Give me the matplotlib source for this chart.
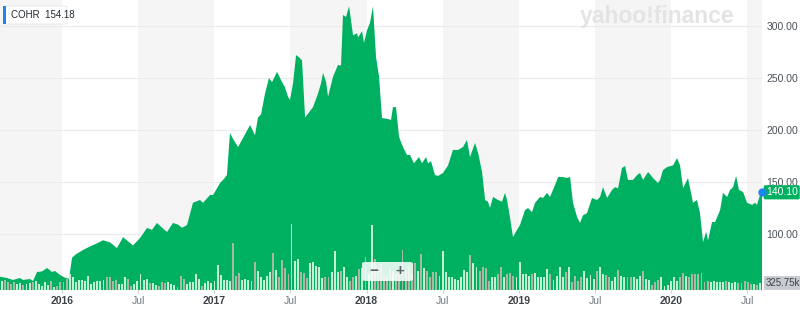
import numpy as np
import matplotlib
matplotlib.use("Agg")
import matplotlib.pyplot as plt
from matplotlib.patches import FancyBboxPatch, Rectangle
from matplotlib.transforms import blended_transform_factory

plt.rcParams['font.family'] = ['Liberation Sans', 'DejaVu Sans']

# price series (decimal year, close)
t_price = [2015.593, 2015.639, 2015.678, 2015.724, 2015.744, 2015.790, 2015.810, 2015.836,
           2015.869, 2015.902, 2015.934, 2015.954, 2015.987, 2016.020, 2016.046, 2016.066,
           2016.085, 2016.105, 2016.138, 2016.184, 2016.230, 2016.269, 2016.315, 2016.361,
           2016.401, 2016.433, 2016.466, 2016.512, 2016.558, 2016.591, 2016.624, 2016.657,
           2016.690, 2016.729, 2016.762, 2016.788, 2016.821, 2016.860, 2016.906, 2016.926,
           2016.972, 2016.992, 2017.038, 2017.064, 2017.083, 2017.103, 2017.129, 2017.156,
           2017.195, 2017.235, 2017.267, 2017.287, 2017.307, 2017.333, 2017.359, 2017.379,
           2017.412, 2017.438, 2017.464, 2017.484, 2017.497, 2017.517, 2017.537, 2017.556,
           2017.576, 2017.596, 2017.622, 2017.648, 2017.681, 2017.701, 2017.714, 2017.734,
           2017.747, 2017.779, 2017.812, 2017.832, 2017.845, 2017.865, 2017.885, 2017.911,
           2017.937, 2017.944, 2017.970, 2017.983, 2018.003, 2018.022, 2018.042, 2018.062,
           2018.082, 2018.101, 2018.141, 2018.160, 2018.173, 2018.193, 2018.213, 2018.239,
           2018.265, 2018.285, 2018.311, 2018.344, 2018.364, 2018.390, 2018.403, 2018.423,
           2018.449, 2018.469, 2018.502, 2018.535, 2018.567, 2018.600, 2018.633, 2018.659,
           2018.679, 2018.712, 2018.732, 2018.758, 2018.778, 2018.797, 2018.810, 2018.830,
           2018.863, 2018.889, 2018.909, 2018.922, 2018.942, 2018.961, 2018.988, 2019.007,
           2019.040, 2019.060, 2019.086, 2019.106, 2019.139, 2019.158, 2019.185, 2019.204,
           2019.237, 2019.257, 2019.290, 2019.316, 2019.336, 2019.355, 2019.382, 2019.401,
           2019.421, 2019.447, 2019.480, 2019.513, 2019.533, 2019.552, 2019.579, 2019.611,
           2019.631, 2019.651, 2019.677, 2019.697, 2019.716, 2019.749, 2019.776, 2019.795,
           2019.815, 2019.848, 2019.881, 2019.913, 2019.927, 2019.946, 2019.973, 2020.012,
           2020.038, 2020.058, 2020.078, 2020.110, 2020.137, 2020.143, 2020.169, 2020.189,
           2020.209, 2020.229, 2020.242, 2020.268, 2020.288, 2020.321, 2020.340, 2020.367,
           2020.386, 2020.406, 2020.426, 2020.445, 2020.472, 2020.498, 2020.531, 2020.550,
           2020.563, 2020.583, 2020.596]
price = [58.9, 57.7, 55.8, 57.7, 55.8, 56.7, 54.8, 63.5, 64.0, 67.3, 63.5, 64.4, 60.6, 58.0,
         57.0, 77.0, 79.8, 81.7, 84.6, 88.0, 91.0, 94.0, 92.0, 86.5, 97.0, 93.0, 89.0, 96.0,
         105.8, 104.0, 110.6, 106.0, 102.0, 110.6, 109.0, 106.0, 108.6, 130.0, 132.7, 130.0,
         137.5, 137.5, 149.0, 153.0, 156.7, 197.0, 190.0, 183.6, 194.0, 204.8, 195.0, 212.0,
         215.0, 235.0, 250.0, 246.0, 256.0, 248.0, 241.0, 232.0, 229.0, 245.0, 272.0, 270.0,
         267.0, 212.0, 217.0, 222.0, 235.0, 245.0, 255.0, 246.0, 232.0, 251.0, 262.5, 262.0,
         310.6, 308.7, 319.0, 291.0, 293.0, 289.0, 295.0, 283.7, 296.0, 303.0, 319.0, 270.0,
         251.0, 211.5, 210.6, 209.6, 222.0, 222.0, 193.3, 183.6, 176.0, 176.0, 168.0, 174.0,
         168.0, 174.0, 168.0, 170.0, 156.7, 155.8, 158.7, 166.0, 180.8, 180.8, 183.6, 190.4,
         174.0, 187.5, 178.0, 159.6, 132.7, 131.0, 125.0, 135.6, 132.7, 131.0, 139.6, 132.7,
         115.4, 97.0, 104.0, 108.6, 123.0, 125.0, 121.0, 130.0, 135.6, 134.6, 139.6, 135.6,
         147.0, 154.8, 154.8, 153.8, 154.8, 130.0, 116.3, 110.6, 118.0, 120.0, 134.6, 132.7,
         135.6, 145.0, 134.6, 142.3, 145.0, 144.0, 163.5, 165.4, 152.0, 152.0, 156.7, 158.7,
         152.0, 159.6, 153.8, 149.0, 152.0, 161.5, 164.4, 166.0, 173.0, 166.0, 144.0, 153.8,
         134.6, 130.0, 132.7, 120.0, 92.3, 102.0, 94.0, 111.5, 111.5, 123.0, 139.6, 135.6,
         142.3, 145.0, 155.8, 142.3, 140.4, 130.0, 128.0, 130.0, 128.0, 137.5, 140.1]

# weekly volume in thousands of shares
volume = [434, 465, 357, 279, 357, 279, 310, 248, 279, 310, 357, 434, 279, 202, 357, 233,
          434, 155, 202, 357, 357, 512, 744, 589, 357, 465, 465, 434, 667, 279, 388, 434,
          434, 465, 589, 589, 434, 465, 279, 279, 589, 512, 202, 279, 434, 744, 465, 512,
          310, 310, 248, 202, 357, 310, 357, 279, 248, 155, 667, 512, 279, 357, 357, 744,
          512, 202, 310, 434, 310, 434, 1163, 698, 465, 465, 434, 2186, 667, 775, 465, 512,
          465, 434, 1287,
          899, 589, 465, 667, 822, 1705, 930, 589, 1395, 1023, 744, 3069, 1333, 1442, 822,
          775, 558, 1240, 1287, 1132, 1085, 558, 589, 589, 822, 1798, 822, 868, 1054, 620,
          434, 589, 667, 977, 1023, 1550, 744, 3023, 1442, 1054, 1209, 744, 667, 977, 899,
          744, 899, 1860, 930, 1085, 744, 1240, 899, 1674, 1023, 868, 589, 822, 822, 667,
          1798, 822, 589, 589, 512, 465, 589, 930, 822, 1643, 1240, 1054, 868, 1054, 1023,
          403, 620, 589, 744, 1054, 589, 744, 775, 667, 589, 1287, 744, 744,
          667, 744, 775, 620, 620, 589, 977, 744, 465, 667, 1085, 589, 822, 1054, 357, 667,
          434, 589, 868, 558, 713, 512, 899, 1085, 744, 713, 620, 434, 620, 930, 667, 589,
          589, 589, 589, 512, 667, 868, 512, 465, 248, 357, 465, 620, 202, 248, 434, 589,
          434, 589, 775, 667, 620, 744, 744, 744, 791, 388, 403, 357, 403, 357, 357, 357,
          434, 388, 310, 357, 310, 310, 434, 357, 279, 279, 248, 326]
vol_start, vol_end = 2015.605, 2020.583

ticker = "COHR"
prev_close = 154.18
last_volume_label = "325.75k"
price_ticks = [100, 150, 200, 250, 300]
x_ticks = [2016, 2016.5, 2017, 2017.5, 2018, 2018.5, 2019, 2019.5, 2020, 2020.5]
x_labels = ["2016", "Jul", "2017", "Jul", "2018", "Jul", "2019", "Jul", "2020", "Jul"]

GREEN = "#00b061"
W, H = 800, 315

fig = plt.figure(figsize=(W / 100, H / 100), dpi=100)
ax = fig.add_axes([0, 1 - 290 / H, 762 / W, 290 / H])
ax2 = ax.twinx()   # volume axis (twinx moves ax ticks left, so set them after)
x0, x1 = t_price[0], t_price[-1]
ax.set_xlim(x0, x1)
ax.set_ylim(46.15, 325)

# shaded half-years
edges = [x0] + x_ticks + [x1 + 1]
for i in range(len(edges) - 1):
    if i % 2 == 0:
        ax.axvspan(edges[i], edges[i + 1], color="#f5f5f5", lw=0, zorder=0)

for p in price_ticks:
    ax.axhline(p, color="#ebebeb", lw=0.8, zorder=1)

ax.fill_between(t_price, price, 0, color=GREEN, lw=0, zorder=2)

for s in ax.spines.values():
    s.set_visible(False)
ax.set_facecolor("white")
ax.yaxis.tick_right()
ax.set_yticks(price_ticks)
ax.set_yticklabels([f"{p:.2f}" for p in price_ticks])
ax.tick_params(axis="y", length=0, pad=3, labelsize=7.5, labelcolor="#4a5158",
               labelleft=False, labelright=True)
ax.set_xticks(x_ticks)
ax.set_xticklabels(x_labels)
ax.tick_params(axis="x", length=2.5, width=0.8, color="#cfcfcf", pad=1.5,
               labelsize=7.5, labelcolor="#6e7780")
for lab in ax.get_xticklabels():
    if lab.get_text() != "Jul":
        lab.set_fontweight("bold")
        lab.set_color("#3c4248")

# volume bars
ax2.set_ylim(0, 13485)
ax2.set_xlim(x0, x1)
ax2.axis("off")
t_vol = np.linspace(vol_start, vol_end, len(volume))
p_vol = np.interp(t_vol, t_price, price)
up = np.r_[True, p_vol[1:] >= p_vol[:-1]]
cols = np.where(up, "#c3f1d4", "#aab8a6")
step = (vol_end - vol_start) / (len(volume) - 1)
ax2.bar(t_vol, volume, width=step * 0.62, color=cols, lw=0, zorder=3)

# last price / volume tags
tr = blended_transform_factory(ax2.transAxes, ax.transData)
ax2.text(1.005, price[-1], f"{price[-1]:.2f}", transform=tr, va="center", ha="left",
         fontsize=7.5, color="white", zorder=10, clip_on=False,
         bbox=dict(boxstyle="round,pad=0.2,rounding_size=0.15", fc=GREEN, ec="none"))
ax2.plot([x1], [price[-1]], "o", ms=5, color="#1a86f0", zorder=11, clip_on=False,
         transform=ax.transData)
tr2 = blended_transform_factory(ax2.transAxes, ax2.transData)
ax2.text(1.005, volume[-1], last_volume_label, transform=tr2, va="center", ha="left",
         fontsize=7, color="#3c4248", zorder=10, clip_on=False,
         bbox=dict(boxstyle="round,pad=0.2,rounding_size=0.15", fc="#c8ccd2", ec="none"))

# ticker tag
fig.patches.append(FancyBboxPatch((4 / W, 1 - 24 / H), 63 / W, 18 / H,
                                  boxstyle="round,pad=0,rounding_size=0.004",
                                  transform=fig.transFigure, fc="white", ec="#e6e6e6",
                                  lw=0.6, zorder=5))
fig.patches.append(Rectangle((3 / W, 1 - 24 / H), 3 / W, 18 / H, transform=fig.transFigure,
                             fc="#1a86f0", ec="none", zorder=6))
fig.text(11 / W, 1 - 15 / H, f"{ticker}  {prev_close:.2f}", fontsize=7, color="#232a31",
         va="center", ha="left", zorder=7)

# watermark
fig.text(657 / W, 1 - 16 / H, "yahoo!finance", fontsize=16.5, fontweight="bold",
         color="#e4e4e4", ha="center", va="center", zorder=1)

# zoom control
fig.patches.append(FancyBboxPatch((362 / W, 1 - 281 / H), 51 / W, 19 / H,
                                  boxstyle="round,pad=0,rounding_size=0.005",
                                  transform=fig.transFigure, fc="white", alpha=0.85,
                                  ec="none", zorder=8))
fig.text(374 / W, 1 - 271 / H, "\u2212", fontsize=11, fontweight="bold", color="#5b636a",
         ha="center", va="center", zorder=9)
fig.text(400 / W, 1 - 271 / H, "+", fontsize=11, fontweight="bold", color="#5b636a",
         ha="center", va="center", zorder=9)

fig.savefig("out.png", dpi=100)
